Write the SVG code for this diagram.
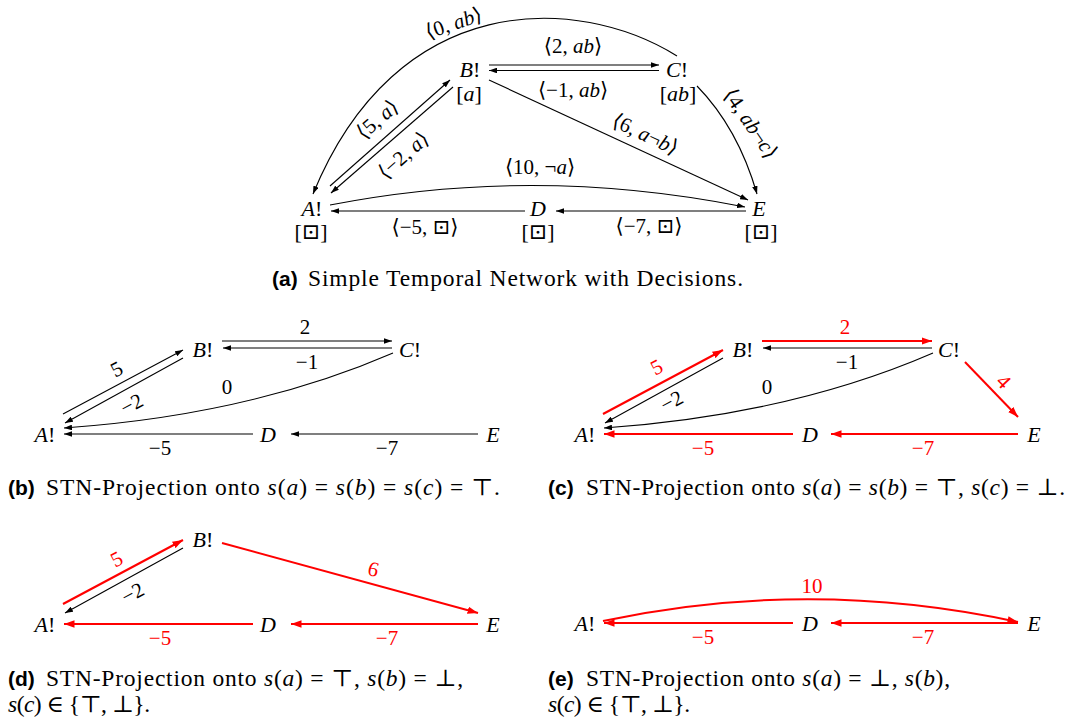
<svg xmlns="http://www.w3.org/2000/svg" width="1072" height="724" viewBox="0 0 1072 724" font-family="'Liberation Serif', 'DejaVu Serif', serif">
<defs>
<marker id="ah" viewBox="0 0 10 7" refX="10" refY="3.5" markerWidth="8" markerHeight="5.6" markerUnits="userSpaceOnUse" orient="auto"><path d="M0,0 L10,3.5 L0,7 z" fill="#000"/></marker>
<marker id="ahr" viewBox="0 0 10 7" refX="10" refY="3.5" markerWidth="10.5" markerHeight="7.5" markerUnits="userSpaceOnUse" orient="auto"><path d="M0,0 L10,3.5 L0,7 z" fill="#f00"/></marker>
</defs>
<style>
.n{font-family:'Liberation Serif','DejaVu Serif',serif;font-size:22px;text-anchor:middle;fill:#000}
.e{font-family:'Liberation Serif','DejaVu Serif',serif;font-size:21px;text-anchor:middle;fill:#000}
.c{font-family:'Liberation Serif','DejaVu Serif',serif;font-size:23.5px;fill:#000}
.i{font-style:italic}
.b{font-family:'Liberation Sans','DejaVu Sans',sans-serif;font-weight:bold;font-size:21px;fill:#000}
.rt{fill:#f00}
.k{fill:none;stroke:#000;stroke-width:1.1;marker-end:url(#ah)}
.r{fill:none;stroke:#f00;stroke-width:2;marker-end:url(#ahr)}
</style>
<rect width="1072" height="724" fill="#fff"/>

<!-- ===== (a) ===== -->
<g id="edges-a">
<path class="k" d="M489,65 L659,65"/>
<path class="k" d="M659,70.5 L489,70.5"/>
<path class="k" d="M330,186 L450,80"/>
<path class="k" d="M453,87 L331,193"/>
<path class="k" d="M677,56 C577,-6 397,-11 313,194"/>
<path class="k" d="M330,205 Q535,165 745,207"/>
<path class="k" d="M525,211 L331,211"/>
<path class="k" d="M746,211 L556,211"/>
<path class="k" d="M489,80 L748,200"/>
<path class="k" d="M697,86 Q738,128 757,194"/>
<text class="e" transform="translate(454,24) rotate(-19)" y="6">⟨0, <tspan class="i">ab</tspan>⟩</text>
<text class="e" x="573" y="53">⟨2, <tspan class="i">ab</tspan>⟩</text>
<text class="e" x="573" y="97">⟨−1, <tspan class="i">ab</tspan>⟩</text>
<text class="e" transform="translate(378,120) rotate(-41)" y="6">⟨5, <tspan class="i">a</tspan>⟩</text>
<text class="e" transform="translate(404,156) rotate(-41)" y="6">⟨−2, <tspan class="i">a</tspan>⟩</text>
<text class="e" transform="translate(645,135) rotate(25)" y="6">⟨6, <tspan class="i">a</tspan>¬<tspan class="i">b</tspan>⟩</text>
<text class="e" transform="translate(750,124) rotate(56)" y="6">⟨4, <tspan class="i">ab</tspan>¬<tspan class="i">c</tspan>⟩</text>
<text class="e" x="540" y="174">⟨10, ¬<tspan class="i">a</tspan>⟩</text>
<text class="e" x="425" y="234">⟨−5, ⊡⟩</text>
<text class="e" x="649" y="233">⟨−7, ⊡⟩</text>
</g>
<g id="a-A"><text class="n" x="312" y="216"><tspan class="i">A</tspan>!</text><text class="n" x="311" y="239">[⊡]</text></g>
<g id="a-B"><text class="n" x="470" y="77"><tspan class="i">B</tspan>!</text><text class="n" x="469" y="101">[<tspan class="i">a</tspan>]</text></g>
<g id="a-C"><text class="n" x="677" y="77"><tspan class="i">C</tspan>!</text><text class="n" x="678" y="101">[<tspan class="i">ab</tspan>]</text></g>
<g id="a-D"><text class="n" x="538" y="216"><tspan class="i">D</tspan></text><text class="n" x="538" y="239">[⊡]</text></g>
<g id="a-E"><text class="n" x="759" y="216"><tspan class="i">E</tspan></text><text class="n" x="761" y="239">[⊡]</text></g>
<text class="b" x="272" y="286">(a)</text>
<text class="c" x="308" y="286" textLength="435">Simple Temporal Network with Decisions.</text>

<!-- ===== (b) ===== -->
<g id="edges-b">
<path class="k" d="M222,341 L392,341"/>
<path class="k" d="M392,348 L223,348"/>
<path class="k" d="M63,414 L183,350"/>
<path class="k" d="M183,358 L65,423"/>
<path class="k" d="M393,353 Q250,415 64,428"/>
<path class="k" d="M253,434 L64,434"/>
<path class="k" d="M478,434 L291,434"/>
<text class="e" x="305" y="334">2</text>
<text class="e" x="307" y="369">−1</text>
<text class="e" transform="translate(117,370) rotate(-28)" y="6">5</text>
<text class="e" transform="translate(132,405) rotate(-28)" y="6">−2</text>
<text class="e" x="227" y="394">0</text>
<text class="e" x="160" y="455">−5</text>
<text class="e" x="387" y="455">−7</text>
</g>
<g id="b-A"><text class="n" x="45" y="442"><tspan class="i">A</tspan>!</text></g>
<g id="b-B"><text class="n" x="203" y="357"><tspan class="i">B</tspan>!</text></g>
<g id="b-C"><text class="n" x="410" y="357"><tspan class="i">C</tspan>!</text></g>
<g id="b-D"><text class="n" x="268" y="442"><tspan class="i">D</tspan></text></g>
<g id="b-E"><text class="n" x="493" y="442"><tspan class="i">E</tspan></text></g>
<text class="b" x="8" y="495">(b)</text>
<text class="c" x="46" y="495" textLength="454">STN-Projection onto <tspan class="i">s</tspan>(<tspan class="i">a</tspan>) = <tspan class="i">s</tspan>(<tspan class="i">b</tspan>) = <tspan class="i">s</tspan>(<tspan class="i">c</tspan>) = ⊤.</text>

<!-- ===== (c) ===== -->
<g id="edges-c">
<path class="r" d="M762,341 L932,341"/>
<path class="k" d="M932,348 L763,348"/>
<path class="r" d="M603,414 L723,350"/>
<path class="k" d="M723,358 L605,423"/>
<path class="k" d="M933,353 Q790,415 604,428"/>
<path class="r" d="M965,362 L1018,417"/>
<path class="r" d="M793,434 L604,434"/>
<path class="r" d="M1018,434 L831,434"/>
<text class="e rt" x="845" y="334">2</text>
<text class="e" x="847" y="369">−1</text>
<text class="e rt" transform="translate(657,368) rotate(-28)" y="6">5</text>
<text class="e" transform="translate(672,402) rotate(-28)" y="6">−2</text>
<text class="e" x="767" y="394">0</text>
<text class="e rt" transform="translate(1003,382) rotate(46)" y="6">4</text>
<text class="e rt" x="703" y="455">−5</text>
<text class="e rt" x="923" y="455">−7</text>
</g>
<g id="c-A"><text class="n" x="585" y="442"><tspan class="i">A</tspan>!</text></g>
<g id="c-B"><text class="n" x="743" y="357"><tspan class="i">B</tspan>!</text></g>
<g id="c-C"><text class="n" x="949" y="357"><tspan class="i">C</tspan>!</text></g>
<g id="c-D"><text class="n" x="810" y="442"><tspan class="i">D</tspan></text></g>
<g id="c-E"><text class="n" x="1034" y="442"><tspan class="i">E</tspan></text></g>
<text class="b" x="548" y="495">(c)</text>
<text class="c" x="586" y="495" textLength="479">STN-Projection onto <tspan class="i">s</tspan>(<tspan class="i">a</tspan>) = <tspan class="i">s</tspan>(<tspan class="i">b</tspan>) = ⊤, <tspan class="i">s</tspan>(<tspan class="i">c</tspan>) = ⊥.</text>

<!-- ===== (d) ===== -->
<g id="edges-d">
<path class="r" d="M63,604 L183,540"/>
<path class="k" d="M183,548 L65,613"/>
<path class="r" d="M222,543 L478,613"/>
<path class="r" d="M253,624 L64,624"/>
<path class="r" d="M478,624 L291,624"/>
<text class="e rt" transform="translate(117,560) rotate(-28)" y="6">5</text>
<text class="e" transform="translate(133,594) rotate(-28)" y="6">−2</text>
<text class="e rt" transform="translate(373,570) rotate(15)" y="6">6</text>
<text class="e rt" x="160" y="645">−5</text>
<text class="e rt" x="387" y="645">−7</text>
</g>
<g id="d-A"><text class="n" x="45" y="632"><tspan class="i">A</tspan>!</text></g>
<g id="d-B"><text class="n" x="203" y="547"><tspan class="i">B</tspan>!</text></g>
<g id="d-D"><text class="n" x="268" y="632"><tspan class="i">D</tspan></text></g>
<g id="d-E"><text class="n" x="493" y="632"><tspan class="i">E</tspan></text></g>
<text class="b" x="8" y="686">(d)</text>
<text class="c" x="46" y="686" textLength="417">STN-Projection onto <tspan class="i">s</tspan>(<tspan class="i">a</tspan>) = ⊤, <tspan class="i">s</tspan>(<tspan class="i">b</tspan>) = ⊥,</text>
<text class="c" x="8" y="712" textLength="142"><tspan class="i">s</tspan>(<tspan class="i">c</tspan>) ∈ {⊤, ⊥}.</text>

<!-- ===== (e) ===== -->
<g id="edges-e">
<path class="r" d="M603,621 Q810,577 1018,622"/>
<path class="r" d="M793,623 L604,623"/>
<path class="r" d="M1018,623 L831,623"/>
<text class="e rt" x="812" y="593">10</text>
<text class="e rt" x="703" y="644">−5</text>
<text class="e rt" x="923" y="644">−7</text>
</g>
<g id="e-A"><text class="n" x="585" y="631"><tspan class="i">A</tspan>!</text></g>
<g id="e-D"><text class="n" x="810" y="631"><tspan class="i">D</tspan></text></g>
<g id="e-E"><text class="n" x="1034" y="631"><tspan class="i">E</tspan></text></g>
<text class="b" x="548" y="686">(e)</text>
<text class="c" x="586" y="686" textLength="364">STN-Projection onto <tspan class="i">s</tspan>(<tspan class="i">a</tspan>) = ⊥, <tspan class="i">s</tspan>(<tspan class="i">b</tspan>),</text>
<text class="c" x="548" y="712" textLength="142"><tspan class="i">s</tspan>(<tspan class="i">c</tspan>) ∈ {⊤, ⊥}.</text>
</svg>
